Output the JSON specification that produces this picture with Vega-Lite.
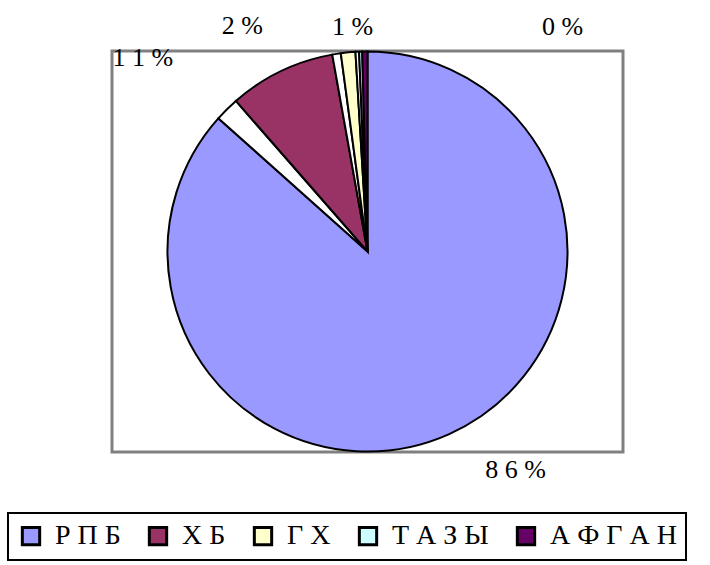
{
  "$schema": "https://vega.github.io/schema/vega-lite/v6.json",
  "width": 511,
  "height": 401,
  "autosize": "none",
  "padding": {"left": 112, "top": 51, "right": 87, "bottom": 113},
  "background": "white",
  "config": {"view": {"stroke": null}, "legend": {"strokeWidth": 2}},
  "data": {
    "values": [
      {"cat": "РПБ", "v": 86.6, "pct": 86, "i": 1},
      {"cat": "w1", "v": 1.97, "i": 2},
      {"cat": "ХБ", "v": 8.61, "pct": 11, "i": 3},
      {"cat": "w2", "v": 0.69, "i": 4},
      {"cat": "ГХ", "v": 1.17, "pct": 2, "i": 5},
      {"cat": "w3", "v": 0.29, "i": 6},
      {"cat": "ТАЗЫ", "v": 0.25, "pct": 1, "i": 7},
      {"cat": "АФГАН", "v": 0.42, "pct": 0, "i": 8}
    ]
  },
  "transform": [
    {"calculate": "isValid(datum.pct) ? join(split(format(datum.pct, 'd') + '%', ''), ' ') : ''", "as": "lab"}
  ],
  "layer": [
    {
      "data": {"values": [{"frame": "plot"}]},
      "mark": {"type": "rect", "fill": "white", "fillOpacity": 0, "stroke": "#808080", "strokeWidth": 3},
      "encoding": {}
    },
    {
      "mark": {"type": "arc", "radius": 200, "stroke": "black", "strokeWidth": 2},
      "encoding": {
        "theta": {"field": "v", "type": "quantitative", "stack": true},
        "order": {"field": "i", "type": "quantitative"},
        "color": {
          "field": "cat",
          "type": "nominal",
          "scale": {
            "domain": ["РПБ", "w1", "ХБ", "w2", "ГХ", "w3", "ТАЗЫ", "АФГАН"],
            "range": ["#9999FF", "#FFFFFF", "#993366", "#FFFFFF", "#FFFFCC", "#FFFFFF", "#CCFFFF", "#660066"]
          },
          "legend": {
            "values": ["РПБ", "ХБ", "ГХ", "ТАЗЫ", "АФГАН"],
            "orient": "none",
            "legendX": -104,
            "legendY": 462,
            "direction": "horizontal",
            "title": null,
            "symbolType": "square",
            "symbolSize": 300,
            "symbolStrokeColor": "black",
            "symbolStrokeWidth": 3,
            "symbolOpacity": 1,
            "labelFont": "Liberation Serif",
            "labelFontSize": 28,
            "labelColor": "black",
            "labelOffset": 10,
            "labelLimit": 400,
            "labelExpr": "join(split(datum.label, ''), ' ')",
            "columnPadding": 22,
            "strokeColor": "black",
            "padding": 9
          }
        }
      }
    },
    {
      "mark": {"type": "text", "radius": 230, "font": "Liberation Serif", "fontSize": 26, "fill": "black", "dx": 54, "dy": 9},
      "encoding": {
        "theta": {"field": "v", "type": "quantitative", "stack": true},
        "order": {"field": "i", "type": "quantitative"},
        "text": {"condition": {"test": "datum.cat === 'РПБ'", "field": "lab"}, "value": ""}
      }
    },
    {
      "mark": {"type": "text", "radius": 230, "font": "Liberation Serif", "fontSize": 26, "fill": "black", "dx": -125, "dy": 14},
      "encoding": {
        "theta": {"field": "v", "type": "quantitative", "stack": true},
        "order": {"field": "i", "type": "quantitative"},
        "text": {"condition": {"test": "datum.cat === 'ХБ'", "field": "lab"}, "value": ""}
      }
    },
    {
      "mark": {"type": "text", "radius": 230, "font": "Liberation Serif", "fontSize": 26, "fill": "black", "dx": -103, "dy": 3},
      "encoding": {
        "theta": {"field": "v", "type": "quantitative", "stack": true},
        "order": {"field": "i", "type": "quantitative"},
        "text": {"condition": {"test": "datum.cat === 'ГХ'", "field": "lab"}, "value": ""}
      }
    },
    {
      "mark": {"type": "text", "radius": 230, "font": "Liberation Serif", "fontSize": 26, "fill": "black", "dx": -7, "dy": 5},
      "encoding": {
        "theta": {"field": "v", "type": "quantitative", "stack": true},
        "order": {"field": "i", "type": "quantitative"},
        "text": {"condition": {"test": "datum.cat === 'ТАЗЫ'", "field": "lab"}, "value": ""}
      }
    },
    {
      "mark": {"type": "text", "radius": 230, "font": "Liberation Serif", "fontSize": 26, "fill": "black", "dx": 198, "dy": 5},
      "encoding": {
        "theta": {"field": "v", "type": "quantitative", "stack": true},
        "order": {"field": "i", "type": "quantitative"},
        "text": {"condition": {"test": "datum.cat === 'АФГАН'", "field": "lab"}, "value": ""}
      }
    }
  ]
}
